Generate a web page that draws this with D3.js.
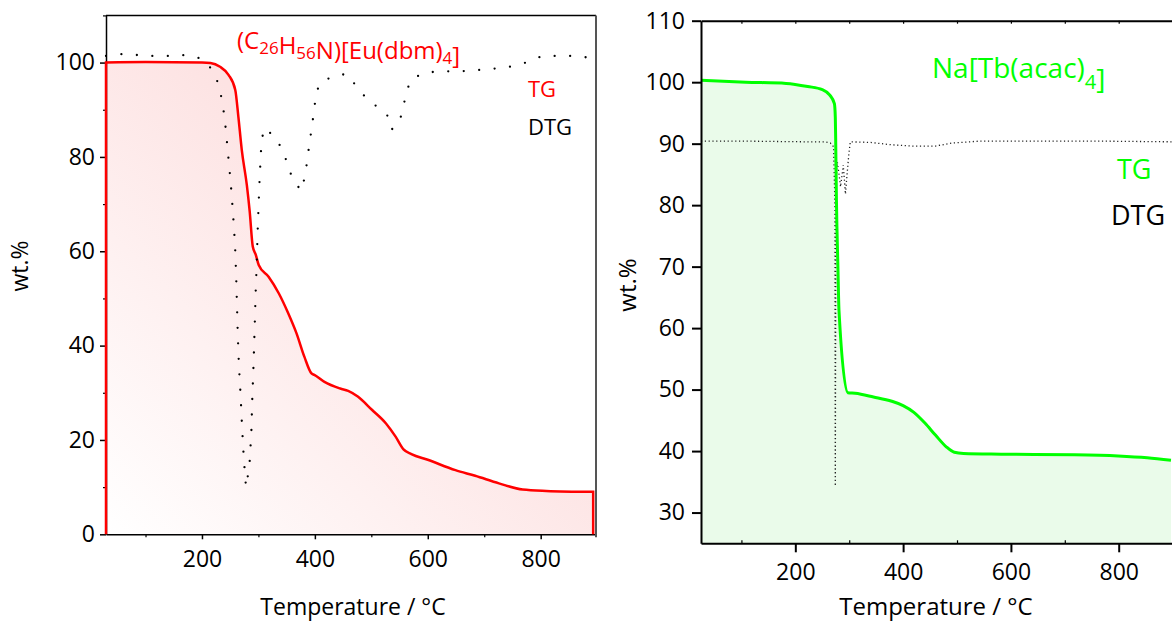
<!DOCTYPE html>
<html>
<head>
<meta charset="utf-8">
<script src="https://cdn.jsdelivr.net/npm/d3@7"></script>
<style>
  body { margin: 0; background: #fff; }
  svg { display: block; font-family: 'Open Sans', sans-serif; }
</style>
</head>
<body>
<div id="chart"></div>
<script>
/* global d3 */
// left panel: (C26H56N)[Eu(dbm)4], temperature in C, weight in %
const euTemp = [30, 100, 200, 215, 232, 247, 259, 264.5, 270.5, 279.5, 284.5, 290, 295.5, 300.5, 318, 336, 353, 367.5, 381.5, 394, 399, 417, 445, 459, 476, 501, 526, 543, 557, 571, 600, 649, 684, 726, 768, 810, 893];
const euTG = [100, 100.1, 100, 99.9, 99.1, 97.4, 94.2, 88.5, 81.5, 74, 68.5, 61, 59.2, 57.1, 54.6, 51.1, 46.8, 42.6, 37.6, 34.1, 33.8, 32.3, 30.9, 30.4, 29.2, 26.4, 23.5, 20.7, 18, 17, 15.8, 13.6, 12.4, 10.8, 9.5, 9.2, 9];
const euDtgTemp = [30, 58, 86, 114, 141, 165, 192, 209, 225, 232.5, 237.5, 241, 246, 251, 255, 258.5, 260.5, 262, 263.5, 265.5, 268.5, 271, 274, 276, 278, 281, 284.5, 287.5, 289, 291, 293.5, 295, 297, 298.5, 301.5, 304, 305.5, 310, 329, 343.5, 352, 360.5, 376, 383, 390, 394, 397.5, 401, 407, 429, 456, 471.5, 488.5, 509.5, 528, 536, 550, 557, 562, 571, 596, 622, 649, 675, 701, 728, 754, 779, 803, 830, 856, 882, 898];
const euDtg = [101.4, 101.8, 101.6, 101.4, 101.4, 101.6, 101.1, 100, 96.9, 93.8, 90.5, 87.3, 80.9, 74.4, 68, 61.5, 55.1, 48.6, 42.1, 35.7, 29.3, 22.8, 16.3, 13.1, 10, 12.2, 15.4, 21.7, 28.3, 34.7, 44.4, 50.9, 57.4, 63.8, 73.6, 80.1, 83.2, 86.1, 84.3, 81.3, 78.3, 75.3, 72.8, 76.2, 82.5, 85.8, 88.9, 92.2, 95.3, 97, 97.6, 95.3, 92.8, 90.7, 88.9, 85.8, 87.5, 90.7, 93.8, 96.5, 97.9, 98.1, 98.2, 98.2, 98.6, 98.8, 99.3, 100.2, 101.4, 101.4, 101.4, 101.1, 101.1];

// right panel: Na[Tb(acac)4]
const tbTemp = [25, 108, 183, 223, 250, 264, 272.5, 274.2, 274.9, 276.3, 279, 281, 297.5, 311, 345, 379, 400, 420, 440, 460, 480, 495, 512, 582, 718, 799, 853, 897];
const tbTG = [100.3, 100, 99.8, 99.3, 98.8, 97.9, 96.5, 94.3, 90.6, 80.8, 70, 62.9, 49.5, 49.4, 48.8, 48.1, 47.4, 46.3, 44.6, 42.6, 40.7, 39.8, 39.6, 39.5, 39.4, 39.2, 38.9, 38.5];
const tbDtgTemp = [25, 120, 220, 255, 265, 271, 273.5, 274.2, 274.8, 275.5, 278, 284, 289, 293, 296, 299, 302, 340, 380, 420, 460, 490, 540, 650, 780, 900];
const tbDtg = [90.4, 90.4, 90.3, 90.3, 90.1, 89.5, 80, 34.3, 60, 84, 87, 83, 86.5, 81.8, 85, 88, 90.3, 90.2, 89.8, 89.6, 89.6, 90.1, 90.4, 90.4, 90.4, 90.3];

const euYTicks = [0, 20, 40, 60, 80, 100];
const euYMinor = [10, 30, 50, 70, 90, 110];
const tbYTicks = [30, 40, 50, 60, 70, 80, 90, 100, 110];
const tempTicks = [200, 400, 600, 800];
const tempMinor = [100, 300, 500, 700];

var red = '#ff0000';
var green = '#00ff00';

var svg = d3.select('#chart')
  .append('svg')
  .attr('width', 1172)
  .attr('height', 623);

function pairs(t, v) {
  return t.map(function(d, i) {
    return [d, v[i]];
  });
}

// text with subscripts, parts are [string, isSub]
function chemLabel(x, y, size, subSize, shift, color, parts) {
  var t = svg.append('text')
    .attr('x', x)
    .attr('y', y)
    .attr('font-size', size)
    .attr('fill', color);
  parts.forEach(function(p) {
    if (p[1]) {
      t.append('tspan').attr('dy', shift).attr('font-size', subSize).text(p[0]);
      t.append('tspan').attr('dy', -shift).text('');
    } else {
      t.append('tspan').text(p[0]);
    }
  });
}

function styleAxis(g, width, size) {
  g.attr('font-family', null)
    .attr('font-size', size);
  g.selectAll('line').attr('stroke', '#000').attr('stroke-width', width);
  g.selectAll('path').attr('stroke', '#000').attr('stroke-width', width);
  g.selectAll('text').attr('fill', '#000');
}

var defs = svg.append('defs');
var grad = defs.append('linearGradient')
  .attr('id', 'pinkFade')
  .attr('x1', 0).attr('y1', 1)
  .attr('x2', 0.6).attr('y2', 0.4);
grad.append('stop').attr('offset', '0%').attr('stop-color', '#ffffff');
grad.append('stop').attr('offset', '100%').attr('stop-color', '#fde3e3');

// ---------- left panel ----------
var x1 = d3.scaleLinear().domain([30, 898]).range([106, 596]);
var y1 = d3.scaleLinear().domain([0, 110]).range([534.3, 15.4]);
var eu = pairs(euTemp, euTG);
var euDots = pairs(euDtgTemp, euDtg);

var euArea = d3.area()
  .x(function(d) { return x1(d[0]); })
  .y0(y1(0))
  .y1(function(d) { return y1(d[1]); })
  .curve(d3.curveMonotoneX);

svg.append('path')
  .datum(eu)
  .attr('d', euArea)
  .attr('fill', 'url(#pinkFade)');

var ax = svg.append('g')
  .attr('transform', 'translate(' + x1.range()[0] + ',0)')
  .call(d3.axisLeft(y1).tickValues(euYTicks).tickSize(6).tickPadding(5).tickSizeOuter(0));
styleAxis(ax, 1.5, 23);
var axm = svg.append('g')
  .attr('transform', 'translate(' + x1.range()[0] + ',0)')
  .call(d3.axisLeft(y1).tickValues(euYMinor).tickSize(3).tickFormat(''));
styleAxis(axm, 1.2, 10);
axm.select('.domain').remove();

var bx = svg.append('g')
  .attr('transform', 'translate(0,' + y1(0) + ')')
  .call(d3.axisBottom(x1).tickValues(tempTicks).tickSize(5).tickPadding(11).tickSizeOuter(0));
styleAxis(bx, 1.5, 23);
var bxm = svg.append('g')
  .attr('transform', 'translate(0,' + y1(0) + ')')
  .call(d3.axisBottom(x1).tickValues(tempMinor).tickSize(3).tickFormat(''));
styleAxis(bxm, 1.2, 10);
bxm.select('.domain').remove();

svg.append('line')
  .attr('x1', x1.range()[0]).attr('x2', x1.range()[1])
  .attr('y1', y1(110)).attr('y2', y1(110))
  .attr('stroke', '#000').attr('stroke-width', 1.5);
svg.append('line')
  .attr('x1', x1.range()[1]).attr('x2', x1.range()[1])
  .attr('y1', y1(110)).attr('y2', y1(0) + 3)
  .attr('stroke', '#555').attr('stroke-width', 2);

var euLine = d3.line()
  .x(function(d) { return x1(d[0]); })
  .y(function(d) { return y1(d[1]); })
  .curve(d3.curveMonotoneX);
var last = eu[eu.length - 1];
svg.append('path')
  .attr('d', 'M' + x1(eu[0][0]) + ',' + y1(0) +
    euLine(eu).replace(/^M/, 'L') +
    'L' + x1(last[0]) + ',' + y1(0))
  .attr('fill', 'none')
  .attr('stroke', red)
  .attr('stroke-width', 2.5);

svg.append('path')
  .datum(euDots)
  .attr('d', d3.line()
    .x(function(d) { return x1(d[0]); })
    .y(function(d) { return y1(d[1]); }))
  .attr('fill', 'none')
  .attr('stroke', '#000')
  .attr('stroke-width', 2.3)
  .attr('stroke-linecap', 'round')
  .attr('stroke-dasharray', '0 15.5');

chemLabel(237, 48.5, 24, 17, 5, red,
  [['(C', 0], ['26', 1], ['H', 0], ['56', 1], ['N)[Eu(dbm)', 0], ['4', 1], [']', 0]]);
svg.append('text').attr('x', 528).attr('y', 97).attr('font-size', 22)
  .attr('fill', red).text('TG');
svg.append('text').attr('x', 528).attr('y', 135).attr('font-size', 22)
  .attr('fill', '#000').text('DTG');
svg.append('text').attr('x', 353).attr('y', 615).attr('font-size', 23)
  .attr('text-anchor', 'middle').text('Temperature / °C');
svg.append('text').attr('transform', 'translate(28,266) rotate(-90)')
  .attr('font-size', 23).attr('text-anchor', 'middle').text('wt.%');

// ---------- right panel ----------
var x2 = d3.scaleLinear().domain([25, 900]).range([701, 1172.6]);
var y2 = d3.scaleLinear().domain([25, 110]).range([543.3, 20.7]);
var tb = pairs(tbTemp, tbTG);
var tbDots = pairs(tbDtgTemp, tbDtg);

svg.append('path')
  .datum(tb)
  .attr('d', d3.area()
    .x(function(d) { return x2(d[0]); })
    .y0(y2(25))
    .y1(function(d) { return y2(d[1]); })
    .curve(d3.curveMonotoneX))
  .attr('fill', '#eafbea');

svg.append('path')
  .datum(tbDots)
  .attr('d', d3.line()
    .x(function(d) { return x2(d[0]); })
    .y(function(d) { return y2(d[1]); }))
  .attr('fill', 'none')
  .attr('stroke', '#222')
  .attr('stroke-width', 1.3)
  .attr('stroke-dasharray', '1.2 2.6');

svg.append('path')
  .datum(tb)
  .attr('d', d3.line()
    .x(function(d) { return x2(d[0]); })
    .y(function(d) { return y2(d[1]); })
    .curve(d3.curveMonotoneX))
  .attr('fill', 'none')
  .attr('stroke', green)
  .attr('stroke-width', 3);

var ay = svg.append('g')
  .attr('transform', 'translate(' + x2.range()[0] + ',0)')
  .call(d3.axisLeft(y2).tickValues(tbYTicks).tickSize(9).tickPadding(7).tickSizeOuter(0));
styleAxis(ay, 2, 23);

var by = svg.append('g')
  .attr('transform', 'translate(0,' + y2(25) + ')')
  .call(d3.axisBottom(x2).tickValues(tempTicks).tickSize(9).tickPadding(11).tickSizeOuter(0));
styleAxis(by, 2, 23);
var bym = svg.append('g')
  .attr('transform', 'translate(0,' + y2(25) + ')')
  .call(d3.axisBottom(x2).tickValues(tempMinor).tickSize(-3).tickFormat(''));
styleAxis(bym, 1.2, 10);
bym.select('.domain').remove();

var ty = svg.append('g')
  .attr('transform', 'translate(0,' + y2(110) + ')')
  .call(d3.axisTop(x2).tickValues(tempMinor.concat(tempTicks)).tickSize(-3).tickFormat('').tickSizeOuter(0));
styleAxis(ty, 2, 10);
ty.selectAll('.tick line').attr('stroke-width', 1.2);

chemLabel(932, 78.3, 28, 20, 11, green,
  [['Na[Tb(acac)', 0], ['4', 1], [']', 0]]);
svg.append('text').attr('x', 1117).attr('y', 179).attr('font-size', 27)
  .attr('fill', green).text('TG');
svg.append('text').attr('x', 1111).attr('y', 225).attr('font-size', 27)
  .attr('fill', '#000').text('DTG');
svg.append('text').attr('x', 936).attr('y', 615).attr('font-size', 24)
  .attr('text-anchor', 'middle').text('Temperature / °C');
svg.append('text').attr('transform', 'translate(636,285) rotate(-90)')
  .attr('font-size', 24).attr('text-anchor', 'middle').text('wt.%');
</script>
</body>
</html>
